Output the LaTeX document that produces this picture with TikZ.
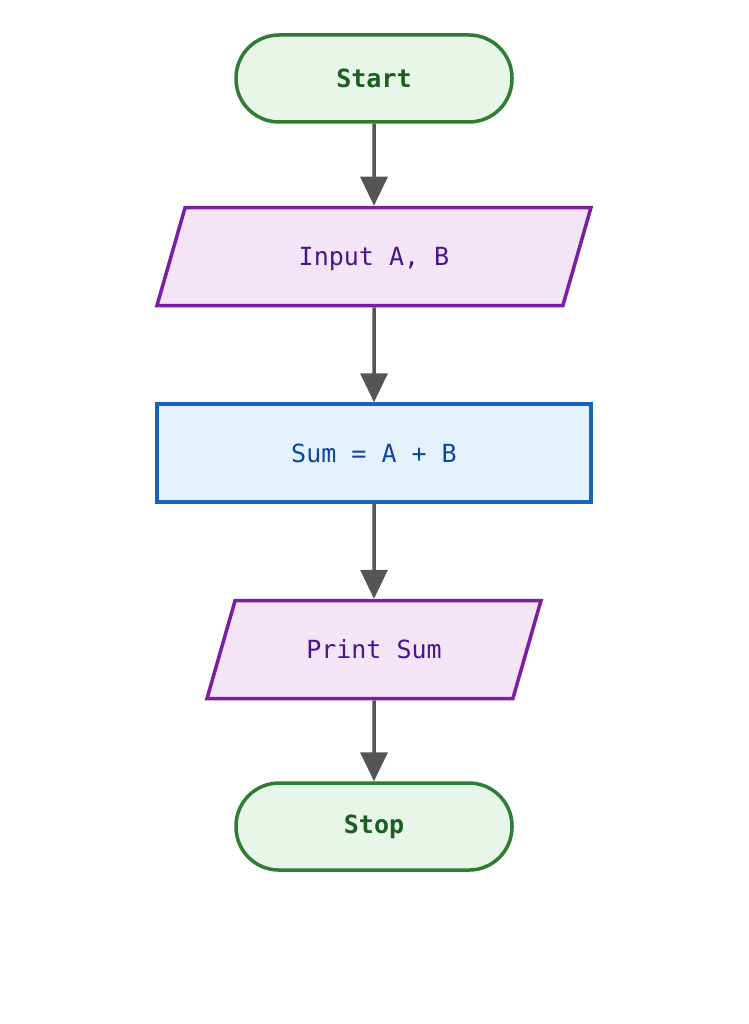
\documentclass[tikz,border=0pt]{standalone}
\usepackage{fontspec}
\setmonofont{DejaVu Sans Mono}
\usepackage{tikz}
\usetikzlibrary{positioning,shapes.geometric,arrows.meta}

\definecolor{termline}{HTML}{2E7D32}
\definecolor{termfill}{HTML}{E8F5E9}
\definecolor{termtext}{HTML}{1B5E20}
\definecolor{ioline}{HTML}{7B1FA2}
\definecolor{iofill}{HTML}{F3E5F5}
\definecolor{iotext}{HTML}{4A148C}
\definecolor{procline}{HTML}{1565C0}
\definecolor{procfill}{HTML}{E3F2FD}
\definecolor{proctext}{HTML}{0D47A1}
\definecolor{flowgray}{HTML}{555555}

\tikzset{
    terminal/.style={rectangle, draw=termline, fill=termfill, text=termtext, line width=3.5pt, rounded corners=43pt, minimum width=276pt, minimum height=87pt, font=\ttfamily\bfseries\fontsize{25}{30}\selectfont},
    iobox/.style={trapezium, trapezium left angle=74, trapezium right angle=106, trapezium stretches body=true, draw=ioline, fill=iofill, text=iotext, line width=3.5pt, text height=21pt, text depth=3pt, inner ysep=37pt, font=\ttfamily\fontsize{25}{30}\selectfont},
    procbox/.style={rectangle, draw=procline, fill=procfill, text=proctext, line width=3.5pt, minimum width=434pt, minimum height=98pt, font=\ttfamily\fontsize{25}{30}\selectfont},
    flow/.style={draw=flowgray, line width=3.5pt, -{Triangle[width=27pt,length=29pt]}}
}

\begin{document}
\begin{tikzpicture}[x=1pt, y=-1pt]
        \useasboundingbox (0,0) rectangle (748,1024);

        \node (start) [terminal] at (374,78.5) {Start};
        \node (input) [iobox, below=82pt of start, minimum width=434pt] {Input A, B};
        \node (sum) [procbox, below=95pt of input] {Sum = A + B};
        \node (print) [iobox, below=95pt of sum, minimum width=334pt] {Print Sum};
        \node (stop) [terminal, below=81pt of print] {Stop};

        \draw[flow] (start) -- (input);
        \draw[flow] (input) -- (sum);
        \draw[flow] (sum) -- (print);
        \draw[flow] (print) -- (stop);
    \end{tikzpicture}
\end{document}
